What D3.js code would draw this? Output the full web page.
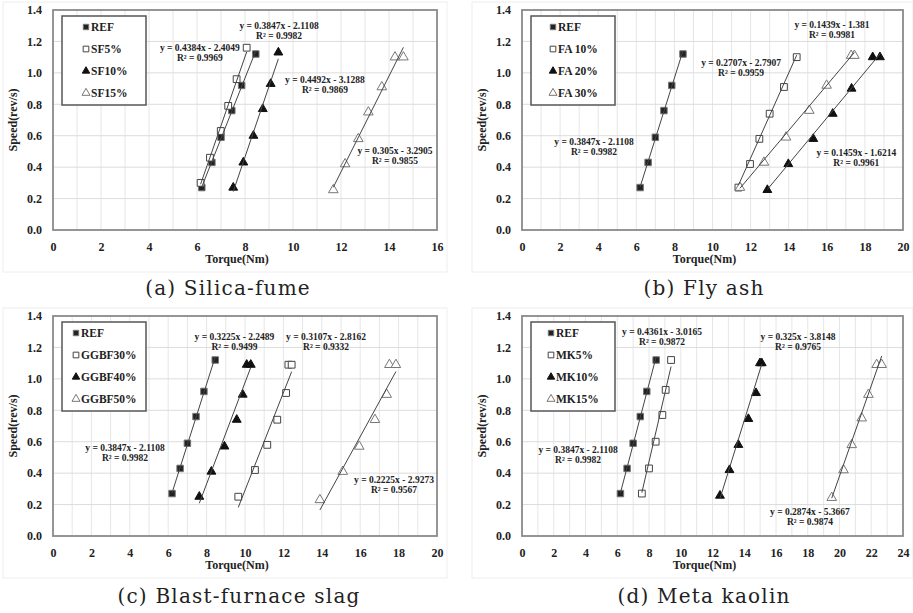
<!DOCTYPE html>
<html>
<head>
<meta charset="UTF-8" />
<script src="https://cdn.jsdelivr.net/npm/d3@7"></script>
<title>Torque vs Speed</title>
<style>
  body { margin: 0; background: #fff; }
  svg { display: block; }
  .tick text, .lbl { font-family: "Liberation Serif", serif; font-weight: bold; fill: #222; }
  .cap { font-family: "DejaVu Serif", serif; fill: #222; }
</style>
</head>
<body>
<svg id="fig" width="913" height="613"></svg>
<script>
// shared reference mix
const refTorque = [6.2, 6.62, 7.0, 7.45, 7.86, 8.45];
const refSpeed  = [0.27, 0.43, 0.59, 0.76, 0.92, 1.12];

// (a) silica-fume
const sf5Torque  = [6.15, 6.54, 6.99, 7.3, 7.65, 8.07];
const sf5Speed   = [0.30, 0.46, 0.63, 0.79, 0.96, 1.16];
const sf10Torque = [7.51, 7.93, 8.35, 8.74, 9.07, 9.39];
const sf10Speed  = [0.27, 0.43, 0.60, 0.77, 0.93, 1.13];
const sf15Torque = [11.68, 12.17, 12.72, 13.14, 13.7, 14.25, 14.6];
const sf15Speed  = [0.255, 0.42, 0.58, 0.75, 0.91, 1.10, 1.10];

// (b) fly ash
const fa10Torque = [11.36, 11.97, 12.46, 13.0, 13.75, 14.42];
const fa10Speed  = [0.27, 0.42, 0.58, 0.74, 0.91, 1.10];
const fa20Torque = [12.88, 13.98, 15.29, 16.31, 17.3, 18.41, 18.79];
const fa20Speed  = [0.255, 0.42, 0.58, 0.74, 0.90, 1.10, 1.10];
const fa30Torque = [11.44, 12.7, 13.86, 15.08, 15.99, 17.28, 17.45];
const fa30Speed  = [0.27, 0.43, 0.59, 0.76, 0.92, 1.11, 1.11];

// (c) blast-furnace slag
const gg30Torque = [9.65, 10.52, 11.16, 11.68, 12.14, 12.26, 12.43];
const gg30Speed  = [0.25, 0.42, 0.58, 0.74, 0.91, 1.09, 1.09];
const gg40Torque = [7.62, 8.25, 8.93, 9.57, 9.88, 10.09, 10.3];
const gg40Speed  = [0.25, 0.41, 0.57, 0.74, 0.90, 1.09, 1.09];
const gg50Torque = [13.9, 15.09, 15.95, 16.77, 17.38, 17.52, 17.86];
const gg50Speed  = [0.23, 0.41, 0.57, 0.74, 0.90, 1.09, 1.09];

// (d) meta kaolin
const mk5Torque  = [7.55, 8.0, 8.42, 8.84, 9.05, 9.39];
const mk5Speed   = [0.27, 0.43, 0.60, 0.77, 0.93, 1.12];
const mk10Torque = [12.47, 13.07, 13.63, 14.26, 14.74, 14.99, 15.1];
const mk10Speed  = [0.257, 0.42, 0.58, 0.745, 0.91, 1.10, 1.10];
const mk15Torque = [19.51, 20.25, 20.77, 21.4, 21.82, 22.34, 22.66];
const mk15Speed  = [0.244, 0.42, 0.58, 0.75, 0.90, 1.09, 1.09];

// trendline equations as printed (REF, open square, filled triangle, open triangle)
const slopesA = [0.3847, 0.4384, 0.4492, 0.305],  interA = [-2.1108, -2.4049, -3.1288, -3.2905], r2A = [0.9982, 0.9969, 0.9869, 0.9855];
const slopesB = [0.3847, 0.2707, 0.1459, 0.1439], interB = [-2.1108, -2.7907, -1.6214, -1.381],  r2B = [0.9982, 0.9959, 0.9961, 0.9981];
const slopesC = [0.3847, 0.3107, 0.3225, 0.2225], interC = [-2.1108, -2.8162, -2.2489, -2.9273], r2C = [0.9982, 0.9332, 0.9499, 0.9567];
const slopesD = [0.3847, 0.4361, 0.325, 0.2874],  interD = [-2.1108, -3.0165, -3.8148, -5.3667], r2D = [0.9982, 0.9872, 0.9765, 0.9874];
const eqTextA = ["0.3847x - 2.1108", "0.4384x - 2.4049", "0.4492x - 3.1288", "0.305x - 3.2905"];
const eqTextB = ["0.3847x - 2.1108", "0.2707x - 2.7907", "0.1459x - 1.6214", "0.1439x - 1.381"];
const eqTextC = ["0.3847x - 2.1108", "0.3107x - 2.8162", "0.3225x - 2.2489", "0.2225x - 2.9273"];
const eqTextD = ["0.3847x - 2.1108", "0.4361x - 3.0165", "0.325x - 3.8148", "0.2874x - 5.3667"];

const namesA = ["REF", "SF5%", "SF10%", "SF15%"];
const namesB = ["REF", "FA 10%", "FA 20%", "FA 30%"];
const namesC = ["REF", "GGBF30%", "GGBF40%", "GGBF50%"];
const namesD = ["REF", "MK5%", "MK10%", "MK15%"];
const captions = ["(a)  Silica-fume", "(b)  Fly ash", "(c)  Blast-furnace slag", "(d)  Meta kaolin"];
const yTicks = [0, 0.2, 0.4, 0.6, 0.8, 1.0, 1.2, 1.4];

// layout (pixel boxes and label anchors in data units)
const layout = [
  { x0: 53,  x1: 437, y0: 10,  y1: 230, xMax: 16, mk: 24, capX: 228, capY: 295,
    eq: [[9.42, 1.30], [6.12, 1.16], [11.33, 0.955], [14.25, 0.50]] },
  { x0: 522, x1: 903, y0: 10,  y1: 230, xMax: 20, mk: 22, capX: 704, capY: 295,
    eq: [[3.78, 0.56], [11.5, 1.06], [17.55, 0.49], [16.27, 1.305]] },
  { x0: 53,  x1: 437, y0: 316, y1: 536, xMax: 20, mk: 14, capX: 239, capY: 603,
    eq: [[3.75, 0.56], [14.22, 1.268], [9.45, 1.268], [17.76, 0.357]] },
  { x0: 522, x1: 903, y0: 316, y1: 536, xMax: 24, mk: 20, capX: 704, capY: 603,
    eq: [[3.53, 0.548], [8.82, 1.30], [17.39, 1.268], [18.14, 0.153]] }
];

const panels = [
  { names: namesA, slopes: slopesA, inter: interA, r2: r2A, eqs: eqTextA,
    xs: [refTorque, sf5Torque, sf10Torque, sf15Torque], ys: [refSpeed, sf5Speed, sf10Speed, sf15Speed] },
  { names: namesB, slopes: slopesB, inter: interB, r2: r2B, eqs: eqTextB,
    xs: [refTorque, fa10Torque, fa20Torque, fa30Torque], ys: [refSpeed, fa10Speed, fa20Speed, fa30Speed] },
  { names: namesC, slopes: slopesC, inter: interC, r2: r2C, eqs: eqTextC,
    xs: [refTorque, gg30Torque, gg40Torque, gg50Torque], ys: [refSpeed, gg30Speed, gg40Speed, gg50Speed] },
  { names: namesD, slopes: slopesD, inter: interD, r2: r2D, eqs: eqTextD,
    xs: [refTorque, mk5Torque, mk10Torque, mk15Torque], ys: [refSpeed, mk5Speed, mk10Speed, mk15Speed] }
];

// marker styles: filled square, open square, filled triangle, open triangle
const markStyle = [
  { type: d3.symbolSquare,   size: 42, fill: "#222", stroke: "#777" },
  { type: d3.symbolSquare,   size: 46, fill: "#fff", stroke: "#444" },
  { type: d3.symbolTriangle, size: 34, fill: "#111", stroke: "#111" },
  { type: d3.symbolTriangle, size: 40, fill: "#fff", stroke: "#777" }
];

const svg = d3.select("#fig");

panels.forEach((p, pi) => {
  const L = layout[pi];
  const g = svg.append("g");
  const x = d3.scaleLinear().domain([0, L.xMax]).range([L.x0, L.x1]);
  const y = d3.scaleLinear().domain([0, 1.4]).range([L.y1, L.y0]);

  // chart area
  g.append("rect").attr("x", L.x0 - 50).attr("y", L.y0 - 8)
    .attr("width", L.x1 - L.x0 + 60).attr("height", L.y1 - L.y0 + 50)
    .attr("fill", "#fff").attr("stroke", "#eee");

  // grid
  g.selectAll(".vg").data(d3.range(1, L.xMax)).enter().append("line")
    .attr("x1", d => x(d)).attr("x2", d => x(d)).attr("y1", L.y0).attr("y2", L.y1)
    .attr("stroke", "#e6e6e6").attr("stroke-width", 1);
  g.selectAll(".hg").data(yTicks.slice(1, -1)).enter().append("line")
    .attr("x1", L.x0).attr("x2", L.x1).attr("y1", d => y(d)).attr("y2", d => y(d))
    .attr("stroke", "#dcdcdc").attr("stroke-width", 1);

  // axes
  const ya = g.append("g").attr("transform", "translate(" + L.x0 + ",0)")
    .call(d3.axisLeft(y).tickValues(yTicks).tickFormat(d3.format(".1f")).tickSize(0).tickPadding(11));
  const xa = g.append("g").attr("transform", "translate(0," + L.y1 + ")")
    .call(d3.axisBottom(x).tickValues(d3.range(0, L.xMax + 1, 2)).tickFormat(d3.format("d")).tickSize(0).tickPadding(12));
  [ya, xa].forEach(a => { a.select(".domain").remove(); a.selectAll("text").style("font-size", "12px"); });

  g.append("rect").attr("x", L.x0).attr("y", L.y0).attr("width", L.x1 - L.x0).attr("height", L.y1 - L.y0)
    .attr("fill", "none").attr("stroke", "#8a8a8a").attr("stroke-width", 1.8);

  g.append("text").attr("class", "lbl").attr("text-anchor", "middle").style("font-size", "12px")
    .attr("transform", "translate(" + (L.x0 - 36) + "," + ((L.y0 + L.y1) / 2) + ") rotate(-90)")
    .text("Speed(rev/s)");
  g.append("text").attr("class", "lbl").attr("text-anchor", "middle").style("font-size", "12px")
    .attr("x", (L.x0 + L.x1) / 2 - 8).attr("y", L.y1 + 33).text("Torque(Nm)");

  // markers
  p.xs.forEach((xs, si) => {
    const ms = markStyle[si];
    const sym = d3.symbol().type(ms.type).size(ms.size);
    g.selectAll(".m" + si).data(xs.map((v, i) => [v, p.ys[si][i]])).enter().append("path")
      .attr("d", sym)
      .attr("transform", d => "translate(" + x(d[0]) + "," + y(d[1]) + ")")
      .attr("fill", ms.fill).attr("stroke", ms.stroke).attr("stroke-width", 1);
  });

  // trendlines over the data range
  p.xs.forEach((xs, si) => {
    const ext = d3.extent(xs);
    g.append("line")
      .attr("x1", x(ext[0])).attr("y1", y(p.slopes[si] * ext[0] + p.inter[si]))
      .attr("x2", x(ext[1])).attr("y2", y(p.slopes[si] * ext[1] + p.inter[si]))
      .attr("stroke", "#444").attr("stroke-width", 1);
  });

  // equation labels
  p.eqs.forEach((e, si) => {
    const a = L.eq[si];
    const t = g.append("text").attr("class", "lbl").attr("text-anchor", "middle").style("font-size", "9.5px");
    t.append("tspan").attr("x", x(a[0])).attr("y", y(a[1]) + 3).text("y = " + e);
    t.append("tspan").attr("x", x(a[0])).attr("dy", 10).text("R² = " + p.r2[si].toFixed(4));
  });

  // legend
  const lx = L.x0 + 9, ly = L.y0 + 6;
  g.append("rect").attr("x", lx).attr("y", ly).attr("width", 84).attr("height", 89)
    .attr("fill", "#fff").attr("stroke", "#555").attr("stroke-width", 1.5);
  p.names.forEach((n, si) => {
    const ms = markStyle[si];
    const cy = ly + 11 + si * 22;
    g.append("path").attr("d", d3.symbol().type(ms.type).size(ms.size * 0.7))
      .attr("transform", "translate(" + (lx + L.mk) + "," + cy + ")")
      .attr("fill", ms.fill).attr("stroke", ms.stroke).attr("stroke-width", 1);
    g.append("text").attr("class", "lbl").style("font-size", "11.5px")
      .attr("x", lx + L.mk + 5).attr("y", cy + 4).text(n);
  });

  // caption
  svg.append("text").attr("class", "cap").attr("text-anchor", "middle")
    .style("font-size", "20px").style("letter-spacing", "1.2px")
    .attr("x", L.capX).attr("y", L.capY).text(captions[pi]);
});
</script>
</body>
</html>
